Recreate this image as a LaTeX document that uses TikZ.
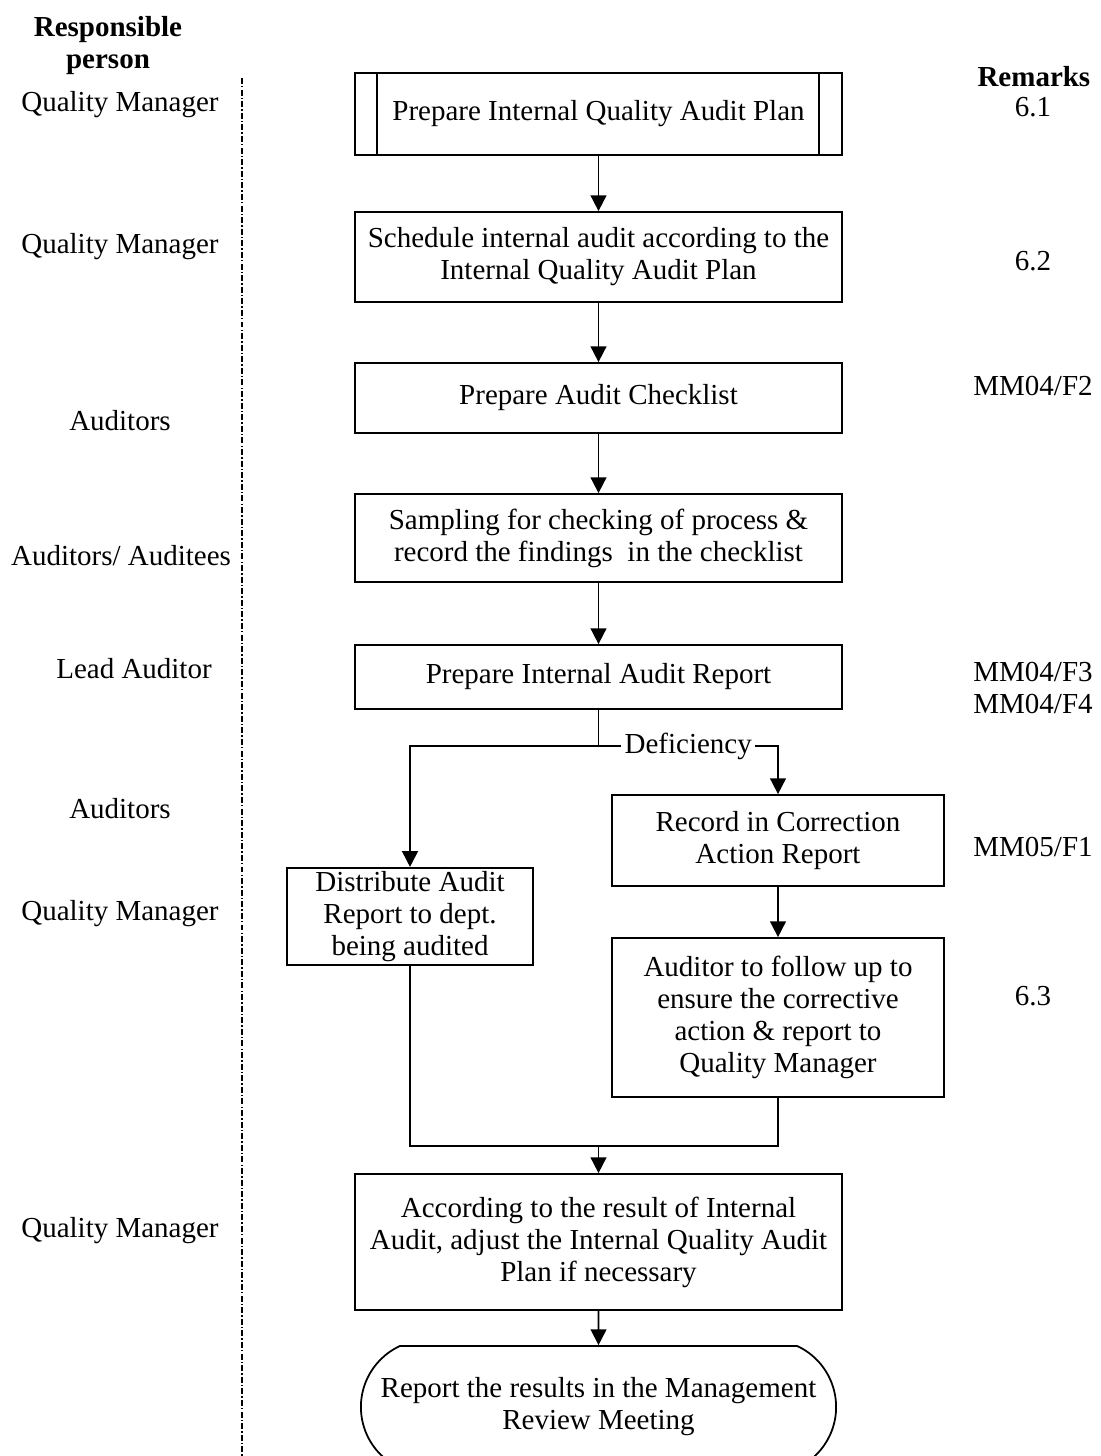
\documentclass[tikz,border=0pt]{standalone}
\usepackage{fontspec}
\setmainfont{Liberation Serif}
\usetikzlibrary{arrows.meta,positioning,shapes.misc}

\begin{document}
\begin{tikzpicture}[x=0.02cm,y=-0.02cm,line width=1pt,
    font=\fontsize{16.5pt}{18.2pt}\selectfont]
  % Styles
  \tikzset{stepbox/.style={draw,rectangle,align=center,inner sep=2pt,
             minimum width=9.74cm},
           flow/.style={-{Triangle[width=9pt,length=9pt]}},
           who/.style={align=center},
           remark/.style={align=center},
           lane/.style={line width=1.1pt,dash pattern=on 3.4pt off 1.2pt on 0.8pt off 1.2pt}}
  \useasboundingbox (0,0) rectangle (1100,1456);

  % column headers
  \node[who,font=\fontsize{16.5pt}{18.2pt}\selectfont\bfseries] (hdwho) at (108,46) {Responsible\\person};
  \node[remark,anchor=east,font=\fontsize{16.5pt}{18.2pt}\selectfont\bfseries] (hdrem) at (1097,77) {Remarks};

  % separator between persons and flow
  \coordinate (lanetop) at (242,78);
  \coordinate (lanebot) at (242,1460);
  \draw[lane] (lanetop) -- (lanebot);

  % flow boxes
  \node[stepbox,minimum height=1.64cm] (plan) at (598.5,114) {Prepare Internal Quality Audit Plan};
  \draw ([xshift=0.46cm]plan.north west) -- ([xshift=0.46cm]plan.south west);
  \draw ([xshift=-0.48cm]plan.north east) -- ([xshift=-0.48cm]plan.south east);
  \node[stepbox,minimum height=1.8cm] (schedule) at (598.5,257)
    {Schedule internal audit according to the\\Internal Quality Audit Plan};
  \node[stepbox,minimum height=1.4cm] (checklist) at (598.5,398) {Prepare Audit Checklist};
  \node[stepbox,minimum height=1.76cm] (sampling) at (598.5,538)
    {Sampling for checking of process \&\\record the findings\ \ in the checklist};
  \node[stepbox,minimum height=1.28cm] (report) at (598.5,677) {Prepare Internal Audit Report};
  \node[stepbox,minimum width=6.64cm,minimum height=1.82cm] (record) at (778,840.5)
    {Record in Correction\\Action Report};
  \node[stepbox,minimum width=4.92cm,minimum height=1.82cm] (distribute) at (410,916.5)
    {Distribute Audit\\Report to dept.\\being audited};
  \node[stepbox,minimum width=6.64cm,minimum height=3.18cm] (followup) at (778,1017.5)
    {Auditor to follow up to\\ensure the corrective\\action \& report to\\Quality Manager};
  \node[stepbox,minimum height=2.72cm] (adjust) at (598.5,1242)
    {According to the result of Internal\\Audit, adjust the Internal Quality Audit\\Plan if necessary};
  \node[draw,rounded rectangle,rounded rectangle arc length=130,align=center,
        minimum width=9.74cm,minimum height=2.44cm] (review) at (598.5,1407)
    {Report the results in the Management\\Review Meeting};

  % connectors
  \draw[flow] (plan) -- (schedule);
  \draw[flow] (schedule) -- (checklist);
  \draw[flow] (checklist) -- (sampling);
  \draw[flow] (sampling) -- (report);
  \coordinate (split) at (598.5,746);
  \draw (report) -- (split);
  \draw[flow] (split) -| (distribute);
  \draw[flow] (split) -- node[fill=white,inner sep=2pt,pos=0.5] (defic) {Deficiency} (split -| record) -- (record);
  \draw[flow] (record) -- (followup);
  \coordinate (merge) at (598.5,1146);
  \draw (distribute) |- (merge);
  \draw (followup) |- (merge);
  \draw[flow] (merge) -- (adjust);
  \draw[flow] (adjust) -- (review);

  % responsible persons
  \node[who] (p1) at (120,105) {Quality Manager};
  \node[who] (p2) at (120,247) {Quality Manager};
  \node[who] (p3) at (120,421) {Auditors};
  \node[who] (p4) at (121,556) {Auditors/ Auditees};
  \node[who] (p5) at (134,669) {Lead Auditor};
  \node[who] (p6) at (120,809) {Auditors};
  \node[who] (p7) at (120,914) {Quality Manager};
  \node[who] (p8) at (120,1231) {Quality Manager};

  % remarks
  \node[remark] (r1) at (1033,107) {6.1};
  \node[remark] (r2) at (1033,261) {6.2};
  \node[remark] (r3) at (1033,386) {MM04/F2};
  \node[remark] (r4) at (1033,688) {MM04/F3\\MM04/F4};
  \node[remark] (r5) at (1033,847) {MM05/F1};
  \node[remark] (r6) at (1033,996) {6.3};
\end{tikzpicture}
\end{document}
